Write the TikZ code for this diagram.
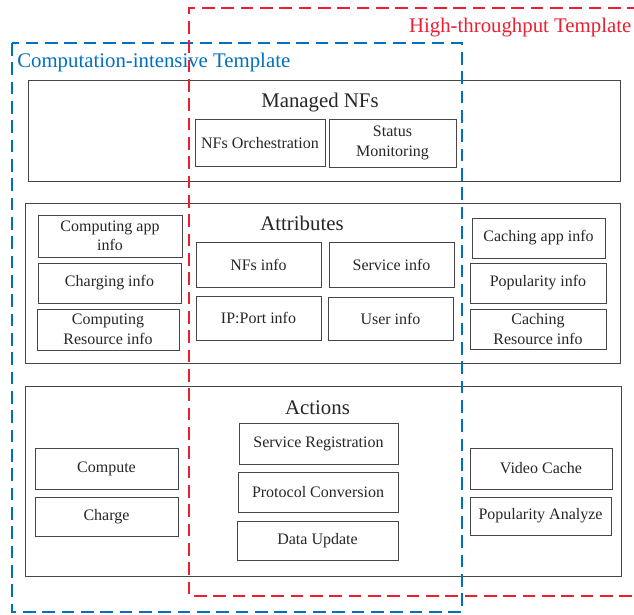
\documentclass[tikz,border=0pt]{standalone}
\usepackage{fontspec}
\setmainfont{Liberation Serif}
\definecolor{tblue}{RGB}{0,112,192}
\definecolor{tred}{RGB}{235,30,50}
\definecolor{bline}{RGB}{70,70,70}
\tikzset{
  bx/.style 2 args={draw=bline, line width=0.65pt, inner sep=0pt, align=center,
    minimum width=#1*0.75pt, minimum height=#2*0.75pt,
    font=\fontsize{12}{14.6}\selectfont, text=black!85},
  ttl/.style={inner sep=0pt, font=\fontsize{15.6}{18}\selectfont, text=black!85},
  tmpl/.style={line width=1.5pt, dash pattern=on 9.5pt off 5pt},
}
\begin{document}
\begin{tikzpicture}[x=0.75pt,y=-0.75pt]
\useasboundingbox (0,0) rectangle (634,614);
% group boxes
\node[bx={592}{101}] (mng) at (324,130.5) {};
\node[bx={595}{160}] (att) at (322.5,283.5) {};
\node[bx={596}{190}] (act) at (323,481) {};
% titles
\node[ttl] (mngt) at (320,103) {Managed NFs};
\node[ttl] (attt) at (302,223.5) {Attributes};
\node[ttl] (actt) at (317.5,407.5) {Actions};
% managed NFs
\node[bx={130}{47.5}] (orch) at (260,142.7) {NFs Orchestration};
\node[bx={127}{48}] (stat) at (392.5,143) {Status\\Monitoring};
% attributes
\node[bx={144}{42}] (capp) at (110,236) {Computing app\\info};
\node[bx={143}{40}] (chg) at (109.5,283) {Charging info};
\node[bx={142}{41}] (cres) at (108,329.5) {Computing\\Resource info};
\node[bx={125}{45}] (nfs) at (258.5,264.5) {NFs info};
\node[bx={125}{44}] (ip) at (258.5,318) {IP:Port info};
\node[bx={125}{45}] (svc) at (391.5,264.5) {Service info};
\node[bx={125}{43}] (usr) at (390.5,318.5) {User info};
\node[bx={133}{40}] (cach) at (538.5,238) {Caching app info};
\node[bx={136}{40}] (pop) at (538,283) {Popularity info};
\node[bx={136}{40}] (chres) at (538,329) {Caching\\Resource info};
% actions
\node[bx={143}{41}] (comp) at (106.5,468.5) {Compute};
\node[bx={143}{39}] (chrg) at (106.5,516.5) {Charge};
\node[bx={159}{41}] (sreg) at (318.5,443.5) {Service Registration};
\node[bx={160}{40}] (pconv) at (318,492) {Protocol Conversion};
\node[bx={161}{39}] (dupd) at (317.5,540.5) {Data Update};
\node[bx={142}{41}] (vc) at (541,468.5) {Video Cache};
\node[bx={141}{38}] (pa) at (540.5,516) {Popularity Analyze};
% templates
\draw[tmpl, draw=tblue] (12,43) rectangle (461.5,612);
\draw[tmpl, draw=tred] (640,8) -- (189,8) -- (189,596) -- (640,596);
\node[anchor=base west, inner sep=0pt, text=tblue, font=\fontsize{15.6}{18}\selectfont] (ctl) at (17,67) {Computation-intensive Template};
\node[anchor=base east, inner sep=0pt, text=tred, font=\fontsize{15.6}{18}\selectfont] (htl) at (631.5,32) {High-throughput Template};
\end{tikzpicture}
\end{document}
